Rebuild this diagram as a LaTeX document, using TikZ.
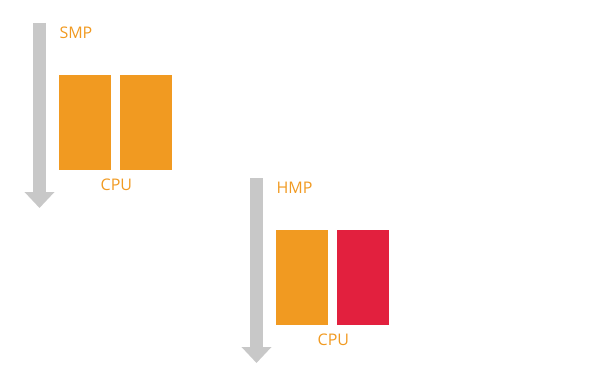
\documentclass[tikz,border=0pt]{standalone}
\usepackage{fontspec}
\setmainfont{Open Sans}
\usetikzlibrary{arrows.meta, positioning, calc}
\definecolor{coreorange}{HTML}{F19A21}
\definecolor{corered}{HTML}{E2203E}
\definecolor{axisgrey}{HTML}{C8C8C8}

\begin{document}
\begin{tikzpicture}[x=1pt, y=1pt, font=\fontsize{16}{19}\selectfont,
    core/.style={minimum width=52pt, minimum height=95pt, inner sep=0pt, outer sep=0pt},
    lbl/.style={text=coreorange, inner sep=0pt},
    flow/.style={draw=axisgrey, line width=13pt, -{Triangle[width=29pt, length=16pt]}}]
    \useasboundingbox (0,0) rectangle (600,373);
    % SMP
    \coordinate (smptop) at (39.5,350);
    \coordinate (smpend) at (39.5,165);
    \draw[flow] (smptop) -- (smpend);
    \node[core, fill=coreorange] (smpa) at (84.7,250.5) {};
    \node[core, fill=coreorange, right=9.3pt of smpa] (smpb) {};
    \node[lbl, anchor=base west] (smp) at ($(smpa.north west)+(0.6,36.3)$) {SMP};
    \node[lbl, anchor=base] (smpcpu) at ($(smpa.south east)!0.5!(smpb.south west)+(1,-20.3)$) {CPU};
    % HMP
    \coordinate (hmptop) at (256.5,195);
    \coordinate (hmpend) at (256.5,10);
    \draw[flow] (hmptop) -- (hmpend);
    \node[core, fill=coreorange] (hmpa) at (301.7,95.5) {};
    \node[core, fill=corered, right=9.3pt of hmpa] (hmpb) {};
    \node[lbl, anchor=base west] (hmp) at ($(hmpa.north west)+(0.6,36.3)$) {HMP};
    \node[lbl, anchor=base] (hmpcpu) at ($(hmpa.south east)!0.5!(hmpb.south west)+(1,-20.3)$) {CPU};
\end{tikzpicture}
\end{document}
